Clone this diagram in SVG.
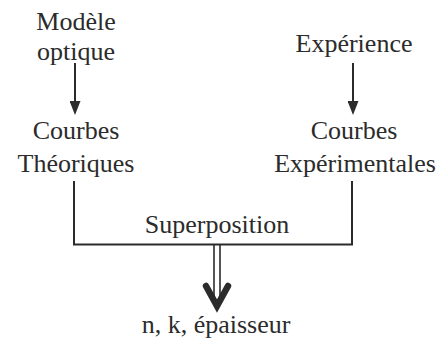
<svg xmlns="http://www.w3.org/2000/svg" width="441" height="340" viewBox="0 0 441 340">
<style>
text{font-family:"Liberation Serif","Times New Roman",serif;font-size:26px;fill:#2b2b2b;text-anchor:middle}
.ln{stroke:#2b2b2b;stroke-width:2;fill:none}
.ar{stroke:#2b2b2b;stroke-width:2;fill:none;marker-end:url(#ah)}
</style>
<defs>
<marker id="ah" markerUnits="userSpaceOnUse" markerWidth="14" markerHeight="11" refX="1" refY="5.5" orient="auto" viewBox="0 0 14 11">
<path d="M0,0 L14,5.5 L0,11 Z" fill="#2b2b2b"/>
</marker>
</defs>
<rect width="441" height="340" fill="#fff"/>
<g id="modele"><text x="76" y="30">Modèle</text><text x="76" y="60">optique</text></g>
<g id="experience"><text x="354" y="52">Expérience</text></g>
<g id="courbes-theoriques"><text x="76" y="139">Courbes</text><text x="76" y="172">Théoriques</text></g>
<g id="courbes-experimentales"><text x="354" y="139">Courbes</text><text x="355" y="172">Expérimentales</text></g>
<g id="superposition"><text x="217" y="233">Superposition</text></g>
<g id="resultat"><text x="216" y="333">n, k, épaisseur</text></g>
<g id="connectors">
<line class="ar" x1="75" y1="63" x2="75" y2="102"/>
<line class="ar" x1="353" y1="63" x2="353" y2="102"/>
<path class="ln" d="M74,181 V244.5 H352 V181"/>
<line x1="214" y1="245" x2="214" y2="300" stroke="#2b2b2b" stroke-width="1.6"/>
<line x1="220" y1="245" x2="220" y2="300" stroke="#2b2b2b" stroke-width="1.6"/>
<polyline points="206,286 217,306 228,286" fill="none" stroke="#2b2b2b" stroke-width="6.5" stroke-linecap="round" stroke-linejoin="miter"/>
</g>
</svg>
